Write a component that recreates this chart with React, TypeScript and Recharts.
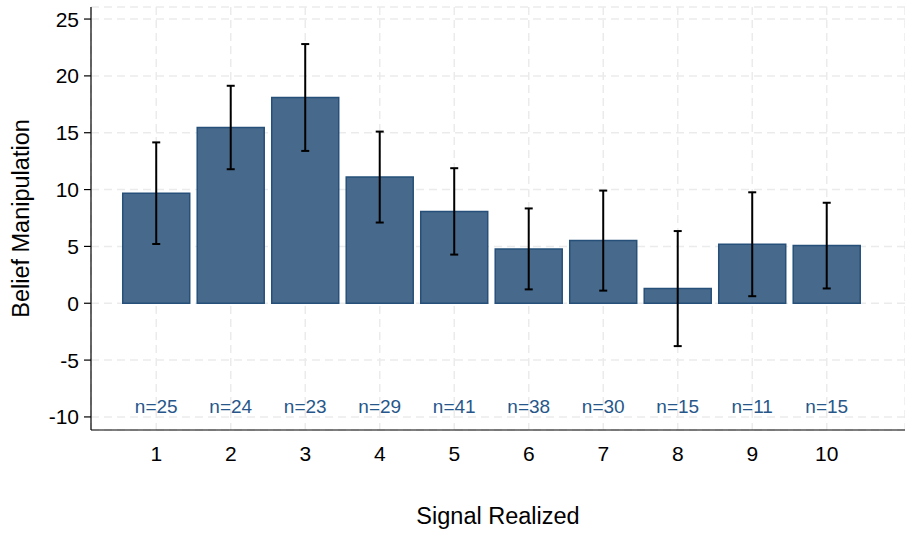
import React from 'react';
import { ComposedChart, Bar, Line, XAxis, YAxis, CartesianGrid, ErrorBar, LabelList, Label } from 'recharts';

// mean belief manipulation by realized signal, with CI half-widths and cell counts
const signals = ['1', '2', '3', '4', '5', '6', '7', '8', '9', '10'];
const meanShift = [9.68, 15.46, 18.1, 11.1, 8.08, 4.78, 5.51, 1.29, 5.19, 5.07];
const ciHalf = [4.47, 3.67, 4.7, 4.0, 3.8, 3.56, 4.4, 5.06, 4.57, 3.77];
const sampleSizes = [25, 24, 23, 29, 41, 38, 30, 15, 11, 15];
const yTicks = [-10, -5, 0, 5, 10, 15, 20, 25];

const rows = signals.map((s, i) => ({
  signal: s,
  mean: meanShift[i],
  err: ciHalf[i],
  n: sampleSizes[i],
}));

// the n= annotations sit on a fixed row near the bottom of the plot
const N_ROW = -9.1;

const FONT = '"Liberation Sans", Arial, sans-serif';

const YTitle = ({ viewBox }: any) => {
  const cx = viewBox.x + 21;
  const cy = viewBox.y + viewBox.height / 2;
  return (
    <text
      x={cx}
      y={cy}
      transform={`rotate(-90 ${cx} ${cy})`}
      textAnchor="middle"
      dominantBaseline="central"
      fontSize={23.5}
      fill="#000"
      fontFamily={FONT}
    >
      Belief Manipulation
    </text>
  );
};

const App: React.FC = () => {
  return (
    <div style={{ position: 'absolute', left: 0, top: 0, width: 905, height: 533, background: '#fff', fontFamily: FONT }}>
      <ComposedChart
        width={905}
        height={533}
        data={rows}
        margin={{ top: 7, right: 0, bottom: 0, left: 0 }}
        barCategoryGap="5%"
      >
        <CartesianGrid stroke="#ebebeb" strokeWidth={1.5} strokeDasharray="8 5" />
        <XAxis
          dataKey="signal"
          height={103}
          padding={{ left: 28, right: 41 }}
          tickLine={false}
          tickSize={6}
          tickMargin={10}
          axisLine={{ stroke: '#000', strokeWidth: 1.2 }}
          tick={{ fill: '#000', fontSize: 21 }}
          label={{ value: 'Signal Realized', position: 'insideBottom', offset: 9, fill: '#000', fontSize: 23.5 }}
        />
        <YAxis
          width={91}
          type="number"
          domain={[-11.15, 26.06]}
          ticks={yTicks}
          allowDataOverflow
          tickSize={7}
          tickMargin={5}
          axisLine={{ stroke: '#000', strokeWidth: 1.2 }}
          tickLine={{ stroke: '#000', strokeWidth: 1.2 }}
          tick={{ fill: '#000', fontSize: 21 }}
        >
          <Label content={<YTitle />} />
        </YAxis>
        <Bar dataKey="mean" fill="#47698b" stroke="#26507a" strokeWidth={1.5} isAnimationActive={false}>
          <ErrorBar dataKey="err" width={4} stroke="#000" strokeWidth={2} />
        </Bar>
        <Line
          dataKey={() => N_ROW}
          stroke="none"
          dot={false}
          activeDot={false}
          isAnimationActive={false}
        >
          <LabelList
            dataKey="n"
            position="center"
            formatter={(v: any) => `n=${v}`}
            fill="#27578a"
            fontSize={19}
          />
        </Line>
      </ComposedChart>
    </div>
  );
};

export default App;
